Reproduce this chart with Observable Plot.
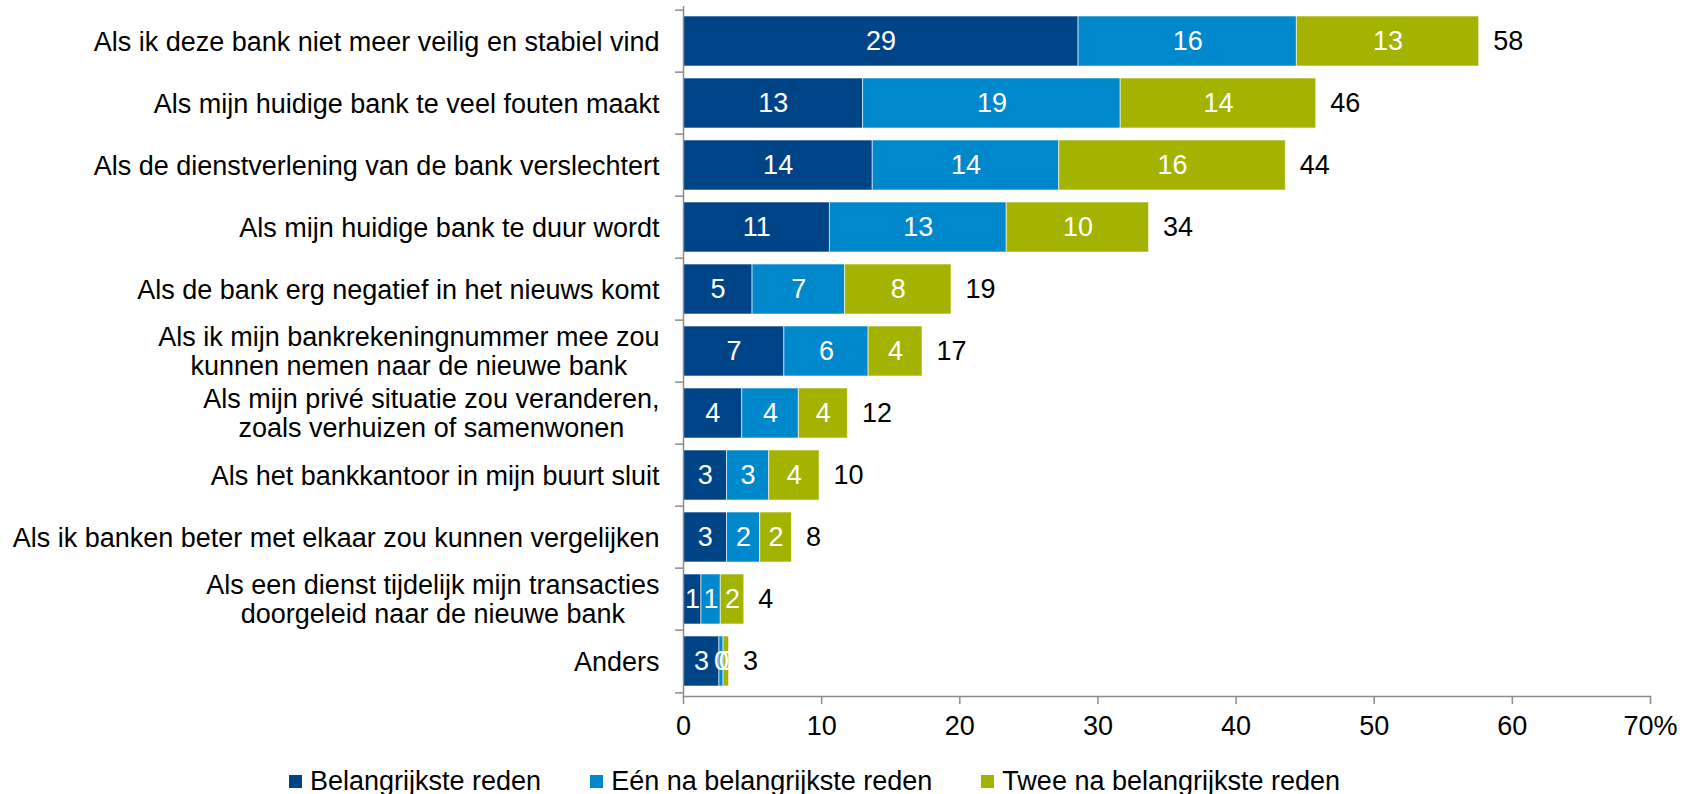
<!DOCTYPE html>
<html><head><meta charset="utf-8">
<script src="https://cdn.jsdelivr.net/npm/d3@7"></script>
<script src="https://cdn.jsdelivr.net/npm/@observablehq/plot@0.6"></script>
<style>
body{margin:0;background:#fff;font-family:"Liberation Sans",Arial,sans-serif;}
#legend{display:flex;align-items:center;height:30px;padding-left:289px;font-size:27px;color:#000;white-space:nowrap;}
#legend .item{display:flex;align-items:center;margin-right:49px;}
#legend .sw{width:13px;height:13px;margin-right:8px;display:inline-block;}
</style>
</head><body><div id="chart"></div><div id="legend"></div>
<script>
const categories = [
  "Als ik deze bank niet meer veilig en stabiel vind",
  "Als mijn huidige bank te veel fouten maakt",
  "Als de dienstverlening van de bank verslechtert",
  "Als mijn huidige bank te duur wordt",
  "Als de bank erg negatief in het nieuws komt",
  "Als ik mijn bankrekeningnummer mee zou\nkunnen nemen naar de nieuwe bank",
  "Als mijn privé situatie zou veranderen,\nzoals verhuizen of samenwonen",
  "Als het bankkantoor in mijn buurt sluit",
  "Als ik banken beter met elkaar zou kunnen vergelijken",
  "Als een dienst tijdelijk mijn transacties\ndoorgeleid naar de nieuwe bank",
  "Anders"
];
const series = ["Belangrijkste reden", "Eén na belangrijkste reden", "Twee na belangrijkste reden"];
const belangrijkste = [28.6, 13.0, 13.7, 10.6, 5.0, 7.3, 4.25, 3.15, 3.15, 1.3, 2.6];
const eenNa        = [15.8, 18.65, 13.5, 12.8, 6.7, 6.1, 4.1, 3.05, 2.4, 1.4, 0.3];
const tweeNa       = [13.2, 14.15, 16.4, 10.3, 7.7, 3.9, 3.55, 3.65, 2.3, 1.7, 0.4];
const xTicks = [0, 10, 20, 30, 40, 50, 60, 70];
const colors = ["#004488", "#0088cc", "#a4b300"];

const seriesValues = [belangrijkste, eenNa, tweeNa];
const rows = categories.flatMap((c, i) => series.map((s, j) => ({cat: c, series: s, value: seriesValues[j][i]})));
const totals = categories.map((c, i) => ({cat: c, total: belangrijkste[i] + eenNa[i] + tweeNa[i]}));

const H = 766, MT = 6, MB = 70;
const halfStep = (H - MT - MB) / categories.length / 2;
const gray = "#8c8c8c";

const plot = Plot.plot({
  width: 1705, height: H,
  marginLeft: 683, marginRight: 55, marginTop: MT, marginBottom: MB,
  style: {fontFamily: "'Liberation Sans', Arial, sans-serif", fontSize: "27px", color: "#000", background: "#fff"},
  x: {domain: [0, 70], label: null},
  y: {domain: categories, paddingInner: 0.2, paddingOuter: 0.1, label: null},
  color: {domain: series, range: colors},
  marks: [
    Plot.barX(rows, Plot.stackX({x: "value", y: "cat", fill: "series", stroke: "white", strokeOpacity: 0.6, strokeWidth: 1})),
    Plot.text(rows, Plot.stackX({x: "value", y: "cat", z: "series", text: d => String(Math.round(d.value)), fill: "white"})),
    Plot.text(totals, {x: "total", y: "cat", text: d => String(Math.round(d.total)), textAnchor: "start", dx: 14, fill: "black"}),
    Plot.ruleX([0], {stroke: gray, strokeWidth: 1.5}),
    Plot.frame({anchor: "bottom", stroke: gray, strokeWidth: 1.5}),
    Plot.axisX({ticks: xTicks, tickFormat: d => d === 70 ? "70%" : String(d), tickSize: 8, tickPadding: 11, stroke: gray, strokeWidth: 1.5, fill: "black", label: null}),
    Plot.axisY({tickSize: 8, tickFormat: () => "", dy: -halfStep, stroke: gray, strokeWidth: 1.5, label: null}),
    Plot.axisY({ticks: [categories[categories.length - 1]], tickSize: 8, tickFormat: () => "", dy: halfStep, stroke: gray, strokeWidth: 1.5, label: null}),
    Plot.axisY({tickSize: 0, tickPadding: 24, fill: "black", lineHeight: 1.05, label: null})
  ]
});
document.getElementById("chart").appendChild(plot);

// center multi-line category labels on their longest (right-aligned) line
plot.querySelectorAll("text").forEach(t => {
  const spans = t.querySelectorAll("tspan");
  if (spans.length > 1 && t.getAttribute("text-anchor") !== "middle") {
    const anchor = t.getAttribute("text-anchor") || getComputedStyle(t).textAnchor;
    let w = 0;
    spans.forEach(s => { w = Math.max(w, s.getComputedTextLength()); });
    if (anchor === "end" || (t.parentNode && t.parentNode.getAttribute("text-anchor") === "end")) {
      t.setAttribute("text-anchor", "middle");
      spans.forEach(s => s.setAttribute("x", String(-w / 2)));
    }
  }
});

const legend = document.getElementById("legend");
series.forEach((s, i) => {
  const item = document.createElement("span");
  item.className = "item";
  const sw = document.createElement("span");
  sw.className = "sw";
  sw.style.background = colors[i];
  item.appendChild(sw);
  item.appendChild(document.createTextNode(s));
  legend.appendChild(item);
});
</script>
</body></html>
